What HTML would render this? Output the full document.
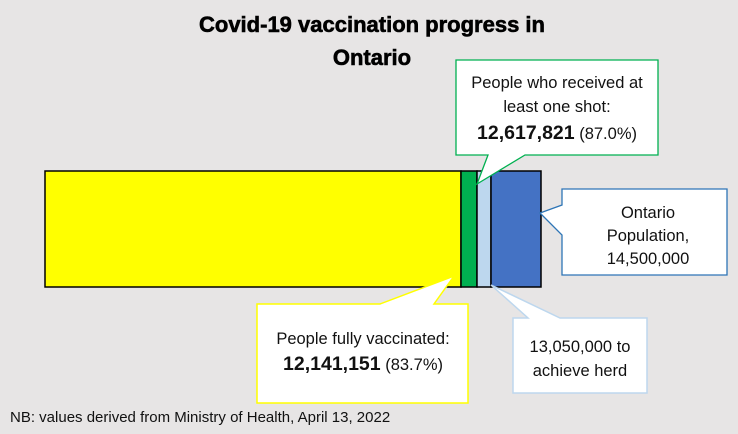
<!DOCTYPE html>
<html><head><meta charset="utf-8"><style>
body{margin:0;background:#e7e5e5;}
svg{display:block;font-family:"Liberation Sans",Arial,sans-serif;}
</style></head><body>
<svg width="738" height="434" viewBox="0 0 738 434">
<rect width="738" height="434" fill="#e7e5e5"/>
<text x="372" y="32" text-anchor="middle" font-size="22" font-weight="bold" stroke="#000" stroke-width="0.6">Covid-19 vaccination progress in</text>
<text x="372" y="65" text-anchor="middle" font-size="22" font-weight="bold" stroke="#000" stroke-width="0.6">Ontario</text>
<rect x="45" y="171" width="416" height="116" fill="#ffff00" stroke="#000" stroke-width="1.5"/>
<rect x="461" y="171" width="16" height="116" fill="#00b050" stroke="#000" stroke-width="1.5"/>
<rect x="477" y="171" width="14" height="116" fill="#bdd7ee" stroke="#000" stroke-width="1.5"/>
<rect x="491" y="171" width="50" height="116" fill="#4472c4" stroke="#000" stroke-width="1.5"/>
<polygon points="456,60 658,60 658,155 525,155 477,184 488,155 456,155" fill="#fff" stroke="#00b050" stroke-width="1.3"/>
<text x="557" y="88" text-anchor="middle" font-size="16.5" fill="#111">People who received at</text>
<text x="557" y="112" text-anchor="middle" font-size="16.5" fill="#111">least one shot:</text>
<text x="557" y="139" text-anchor="middle" font-size="16.5" fill="#111"><tspan font-weight="bold" font-size="19.5">12,617,821</tspan> (87.0%)</text>
<polygon points="562,189 727,189 727,275 562,275 562,235 540,213 562,205" fill="#fff" stroke="#2e75b6" stroke-width="1.3"/>
<text x="648" y="218" text-anchor="middle" font-size="16.5" fill="#111">Ontario</text>
<text x="648" y="241" text-anchor="middle" font-size="16.5" fill="#111">Population,</text>
<text x="648" y="264" text-anchor="middle" font-size="16.5" fill="#111">14,500,000</text>
<polygon points="257,304 380,304 454,276 434,304 468,304 468,403 257,403" fill="#fff" stroke="#ffff00" stroke-width="1.5"/>
<text x="363" y="344" text-anchor="middle" font-size="16.5" fill="#111">People fully vaccinated:</text>
<text x="363" y="370" text-anchor="middle" font-size="16.5" fill="#111"><tspan font-weight="bold" font-size="19.5">12,141,151</tspan> (83.7%)</text>
<polygon points="513,318 528,318 491,285 560,318 647,318 647,393 513,393" fill="#fff" stroke="#bdd7ee" stroke-width="1.5"/>
<text x="580" y="352" text-anchor="middle" font-size="16.5" fill="#111">13,050,000 to</text>
<text x="580" y="376" text-anchor="middle" font-size="16.5" fill="#111">achieve herd</text>
<text x="10" y="422" font-size="15" fill="#111">NB: values derived from Ministry of Health, April 13, 2022</text>
</svg>
</body></html>
